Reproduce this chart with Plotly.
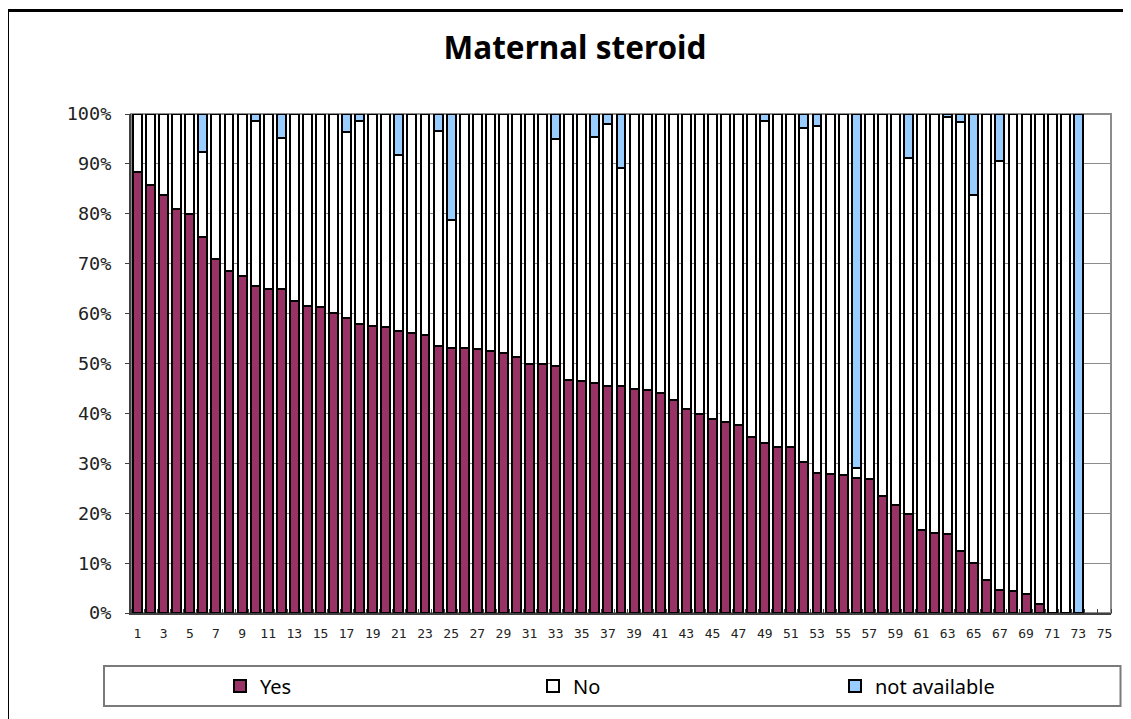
import plotly.graph_objects as go

categories = list(range(1, 76))

yes = [88.3, 85.8, 83.7, 81.0, 80.0, 75.3, 70.9, 68.6, 67.6, 65.6,
       65.0, 65.0, 62.5, 61.6, 61.3, 60.1, 59.2, 58.0, 57.5, 57.4,
       56.5, 56.2, 55.8, 53.5, 53.2, 53.1, 52.9, 52.5, 52.1, 51.3,
       50.0, 50.0, 49.4, 46.7, 46.5, 46.0, 45.4, 45.4, 44.8, 44.6,
       44.1, 42.7, 40.8, 39.9, 38.9, 38.3, 37.6, 35.3, 34.1, 33.2,
       33.2, 30.2, 28.0, 27.8, 27.6, 27.0, 26.8, 23.5, 21.7, 19.8,
       16.6, 16.1, 15.9, 12.4, 10.0, 6.7, 4.6, 4.4, 3.9, 1.8,
       0.0, 0.0, 0.0, None, None]

no = [11.7, 14.2, 16.3, 19.0, 20.0, 17.0, 29.1, 31.4, 32.4, 32.9,
      35.0, 30.1, 37.5, 38.4, 38.7, 39.9, 37.2, 40.6, 42.5, 42.6,
      35.3, 43.8, 44.2, 43.0, 25.5, 46.9, 47.1, 47.5, 47.9, 48.7,
      50.0, 50.0, 45.5, 53.3, 53.5, 49.4, 52.5, 43.8, 55.2, 55.4,
      55.9, 57.3, 59.2, 60.1, 61.1, 61.7, 62.4, 64.7, 64.5, 66.8,
      66.8, 66.9, 69.6, 72.2, 72.4, 2.0, 73.2, 76.5, 78.3, 71.4,
      83.4, 83.9, 83.4, 85.9, 73.7, 93.3, 85.9, 95.6, 96.1, 98.2,
      100.0, 100.0, 0.0, None, None]

not_available = [0, 0, 0, 0, 0, 7.7, 0, 0, 0, 1.5,
                 0, 4.9, 0, 0, 0, 0, 3.6, 1.4, 0, 0,
                 8.2, 0, 0, 3.5, 21.3, 0, 0, 0, 0, 0,
                 0, 0, 5.1, 0, 0, 4.6, 2.1, 10.8, 0, 0,
                 0, 0, 0, 0, 0, 0, 0, 0, 1.4, 0,
                 0, 2.9, 2.4, 0, 0, 71.0, 0, 0, 0, 8.8,
                 0, 0, 0.7, 1.7, 16.3, 0, 9.5, 0, 0, 0,
                 0, 0, 100.0, None, None]

y_tickvals = [0, 10, 20, 30, 40, 50, 60, 70, 80, 90, 100]
y_ticktext = ["0%", "10%", "20%", "30%", "40%", "50%", "60%", "70%", "80%", "90%", "100%"]
x_tickvals = list(range(1, 76, 2))
x_ticktext = [str(v) for v in x_tickvals]

series = [("Yes", yes, "#993366", "legend"),
          ("No", no, "#FFFFFF", "legend2"),
          ("not available", not_available, "#99CCFF", "legend3")]

fig = go.Figure()
for name, vals, col, lg in series:
    fig.add_trace(go.Bar(
        x=categories, y=vals, name=name, legend=lg,
        marker=dict(color=col, line=dict(color="#000000", width=2)),
        hovertemplate="%{x}: %{y}%<extra>" + name + "</extra>",
    ))

# page body adds an 8px offset; positions below are screen coordinates minus that offset
OFF = 8
W, H = 1131, 719
L, R, T, B = 131 - OFF, 1111 - OFF, 114 - OFF, 613 - OFF
pw, ph = R - L, B - T

def px(x):
    return (x - OFF - L) / pw

def py(y):
    return (B - (y - OFF)) / ph

legend_font = dict(size=20, family="Noto Sans, Liberation Sans, Arial, sans-serif", color="#000000")

def leg(xpix):
    return dict(xref="container", yref="container", x=(xpix - OFF) / W, y=1 - (686 - OFF) / H,
                xanchor="left", yanchor="middle", orientation="h",
                bgcolor="rgba(0,0,0,0)", borderwidth=0, font=legend_font)

fig.update_layout(
    width=W, height=H,
    margin=dict(l=L, r=W - R, t=T, b=H - B, autoexpand=False),
    barmode="stack",
    bargap=0.32,
    paper_bgcolor="white",
    plot_bgcolor="white",
    font=dict(family="Noto Sans, Liberation Sans, Arial, sans-serif", color="#000000"),
    title=dict(text="<b>Maternal steroid</b>",
               font=dict(size=31.5, family="Noto Sans, Liberation Sans, Arial, sans-serif", color="#000000"),
               xref="container", yref="container", x=(575 - OFF) / W, y=1 - (48 - OFF) / H,
               xanchor="center", yanchor="middle"),
    showlegend=True,
    legend=leg(220),
    legend2=leg(533),
    legend3=leg(835),
    xaxis=dict(range=[0.5, 75.5], tickmode="array", tickvals=x_tickvals, ticktext=x_ticktext,
               ticks="", showgrid=False, zeroline=False,
               showline=True, linecolor="#404040", linewidth=2,
               tickfont=dict(family="DejaVu Sans Mono, monospace", size=13, color="#222222"),
               ticklabelstandoff=7,
               minor=dict(tickmode="linear", tick0=0.5, dtick=1, ticks="inside", ticklen=4,
                          tickcolor="#404040", tickwidth=1, showgrid=False)),
    yaxis=dict(range=[0, 100], tickmode="array", tickvals=y_tickvals, ticktext=y_ticktext,
               ticks="outside", ticklen=4, tickcolor="#404040",
               showgrid=True, gridcolor="#8c8c8c", gridwidth=1, zeroline=False,
               showline=True, linecolor="#404040", linewidth=2,
               tickfont=dict(family="DejaVu Sans Mono, monospace", size=18.5, color="#222222"),
               ticklabelstandoff=10),
    shapes=[
        dict(type="rect", xref="paper", yref="paper", x0=0, y0=0, x1=1, y1=1,
             line=dict(color="#8c8c8c", width=2), layer="below"),
        dict(type="rect", xref="paper", yref="paper", x0=px(104), y0=py(706), x1=px(1120.5), y1=py(666),
             line=dict(color="#7a7a7a", width=2), fillcolor="rgba(0,0,0,0)", layer="below"),
        dict(type="rect", xref="paper", yref="paper", x0=px(7.5), y0=py(740), x1=px(1160), y1=py(10.5),
             line=dict(color="#000000", width=3), fillcolor="rgba(0,0,0,0)", layer="below"),
    ],
)

fig.write_html("out.html")
